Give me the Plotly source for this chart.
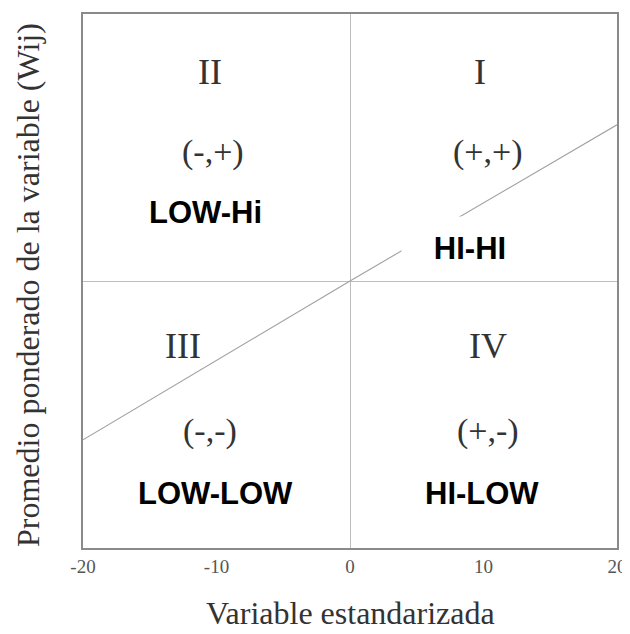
import plotly.graph_objects as go

# Data
line_x = [-20, 0, 20]
line_y = [-11.9, 0, 11.7]
tick_vals = [-20, -10, 0, 10, 20]
tick_text = ["-20", "-10", "0", "10", "20"]

roman_labels = ["II", "I", "III", "IV"]
sign_labels = ["(-,+)", "(+,+)", "(-,-)", "(+,-)"]
bold_labels = ["LOW-Hi", "HI-HI", "LOW-LOW", "HI-LOW"]

x_title = "Variable estandarizada"
y_title = "Promedio ponderado de la variable (Wij)"

serif = "Liberation Serif, Times New Roman, serif"
sans = "Liberation Sans, Arial, sans-serif"

fig = go.Figure()
fig.add_trace(go.Scatter(x=line_x, y=line_y, mode="lines",
                         line=dict(color="#a0a0a0", width=1.1),
                         hoverinfo="skip", showlegend=False))

roman_pos = [(-10.5, 15.65), (9.7, 15.65), (-12.5, -4.9), (10.3, -4.9)]
sign_pos = [(-10.3, 9.66), (10.3, 9.66), (-10.5, -11.2), (10.3, -11.2)]
bold_pos = [(-10.8, 5.1), (9.0, 2.5), (-10.1, -15.9), (9.9, -15.9)]

anns = []
for t, (x, y) in zip(roman_labels, roman_pos):
    anns.append(dict(x=x, y=y, text=t, showarrow=False,
                     font=dict(family=serif, size=36, color="#333333")))
for t, (x, y) in zip(sign_labels, sign_pos):
    anns.append(dict(x=x, y=y, text=t, showarrow=False,
                     font=dict(family=serif, size=34, color="#333333")))
for t, (x, y) in zip(bold_labels, bold_pos):
    a = dict(x=x, y=y, text="<b>%s</b>" % t, showarrow=False,
             font=dict(family=sans, size=31, color="#000000"))
    if t == "HI-HI":
        a.update(bgcolor="white", width=134, height=60)
    anns.append(a)

anns.append(dict(xref="paper", yref="paper", x=0.5, y=-0.159,
                 xanchor="center", yanchor="bottom", text=x_title,
                 showarrow=False,
                 font=dict(family=serif, size=32, color="#333333")))
anns.append(dict(xref="paper", yref="paper", x=-0.103, y=0.4925,
                 xanchor="center", yanchor="middle", text=y_title,
                 textangle=-90, showarrow=False,
                 font=dict(family=serif, size=32, color="#333333")))

fig.update_layout(
    width=622, height=626,
    margin=dict(l=75, r=13, t=6, b=86),
    paper_bgcolor="white", plot_bgcolor="white",
    annotations=anns,
    showlegend=False,
)
fig.update_xaxes(range=[-20, 20], tickvals=tick_vals, ticktext=tick_text,
                 showgrid=False, zeroline=True, zerolinecolor="#bdbdbd",
                 zerolinewidth=1, showline=True, mirror=True,
                 linecolor="#8a8a8a", linewidth=2, ticks="", automargin=False,
                 tickfont=dict(family=serif, size=19, color="#555555"))
fig.update_yaxes(range=[-20, 20], showticklabels=False, showgrid=False,
                 zeroline=True, zerolinecolor="#bdbdbd", zerolinewidth=1,
                 showline=True, mirror=True, linecolor="#8a8a8a",
                 linewidth=2, ticks="", automargin=False)

fig.write_html("out.html")
